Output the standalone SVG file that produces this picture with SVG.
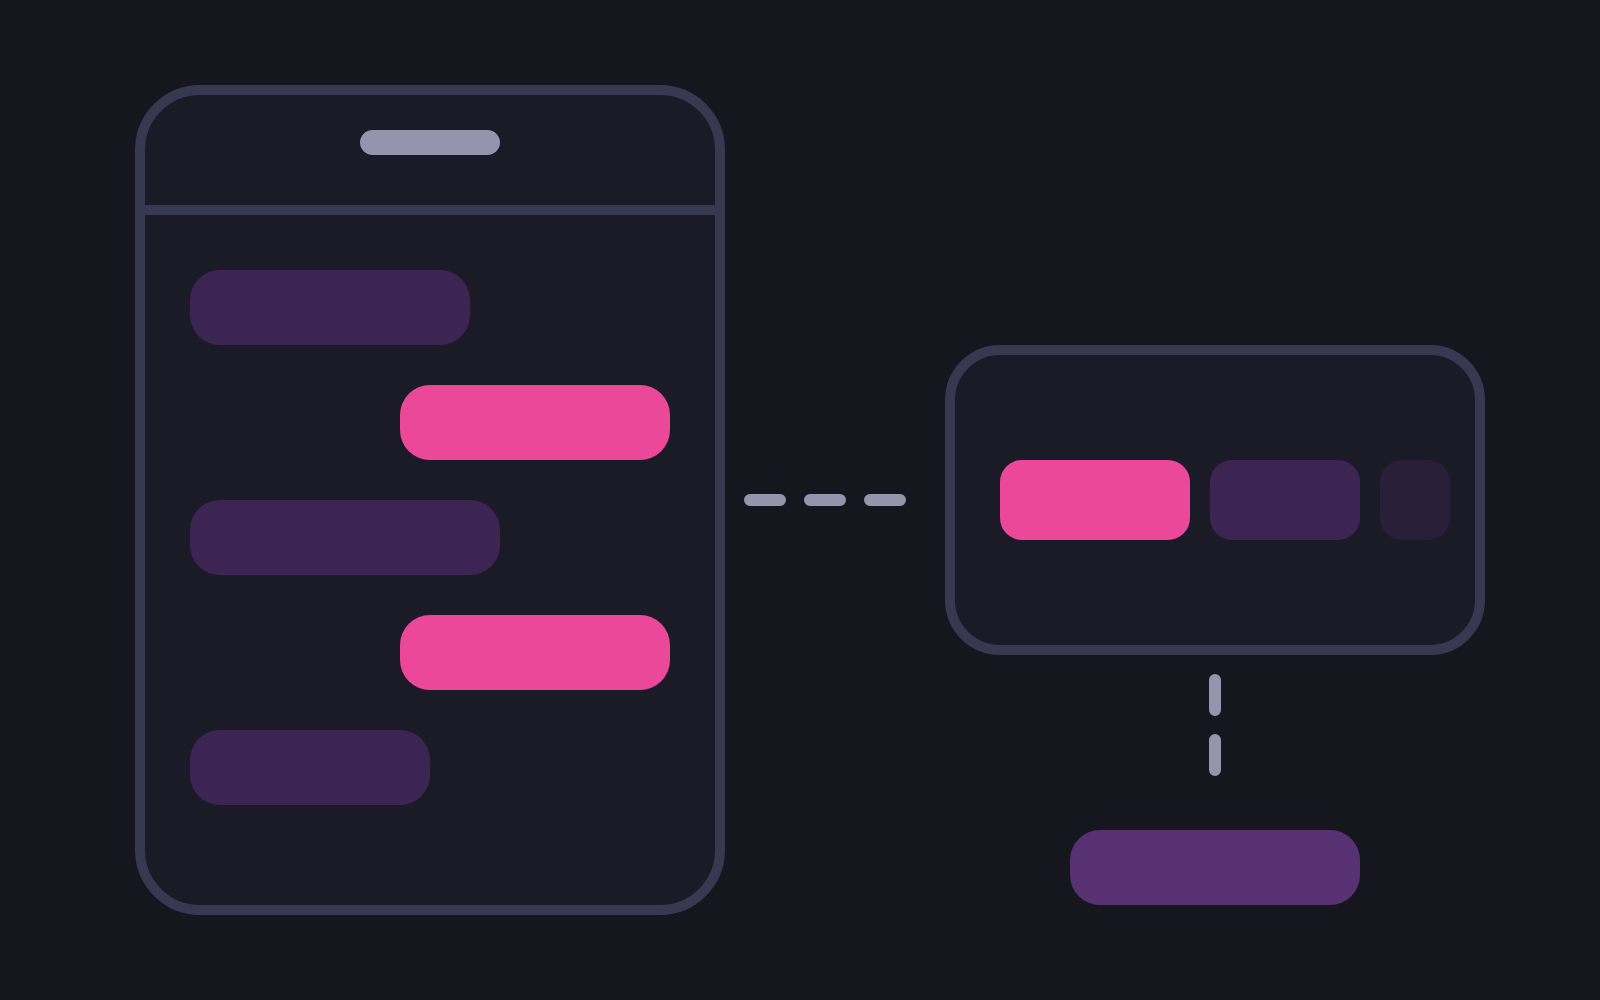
<svg xmlns="http://www.w3.org/2000/svg" width="1600" height="1000" viewBox="0 0 1600 1000">
  <style>
    .frame { fill: #1B1B27; stroke: #383850; stroke-width: 10; }
    .dash { fill: none; stroke: #9494AC; stroke-width: 12; stroke-linecap: round; stroke-dasharray: 30 30; }
    .incoming { fill: #3C2553; }
    .outgoing { fill: #EC4899; }
  </style>
  <rect width="1600" height="1000" fill="#16161F"/>
  <g id="phone">
    <rect class="frame" x="140" y="90" width="580" height="820" rx="60"/>
    <line x1="140" y1="210" x2="720" y2="210" stroke="#383850" stroke-width="10"/>
    <rect x="360" y="130" width="140" height="25" rx="12.5" fill="#9494AC"/>
    <rect class="incoming" x="190" y="270" width="280" height="75" rx="30"/>
    <rect class="outgoing" x="400" y="385" width="270" height="75" rx="30"/>
    <rect class="incoming" x="190" y="500" width="310" height="75" rx="30"/>
    <rect class="outgoing" x="400" y="615" width="270" height="75" rx="30"/>
    <rect class="incoming" x="190" y="730" width="240" height="75" rx="30"/>
  </g>
  <g id="panel">
    <rect class="frame" x="950" y="350" width="530" height="300" rx="50"/>
    <rect class="outgoing" x="1000" y="460" width="190" height="80" rx="22"/>
    <rect class="incoming" x="1210" y="460" width="150" height="80" rx="22"/>
    <rect x="1380" y="460" width="70" height="80" rx="22" fill="#2A1F38"/>
  </g>
  <g id="result">
    <rect x="1070" y="830" width="290" height="75" rx="30" fill="#583173"/>
  </g>
  <g id="connectors">
    <line class="dash" x1="750" y1="500" x2="900" y2="500"/>
    <line class="dash" x1="1215" y1="680" x2="1215" y2="770"/>
  </g>
</svg>
